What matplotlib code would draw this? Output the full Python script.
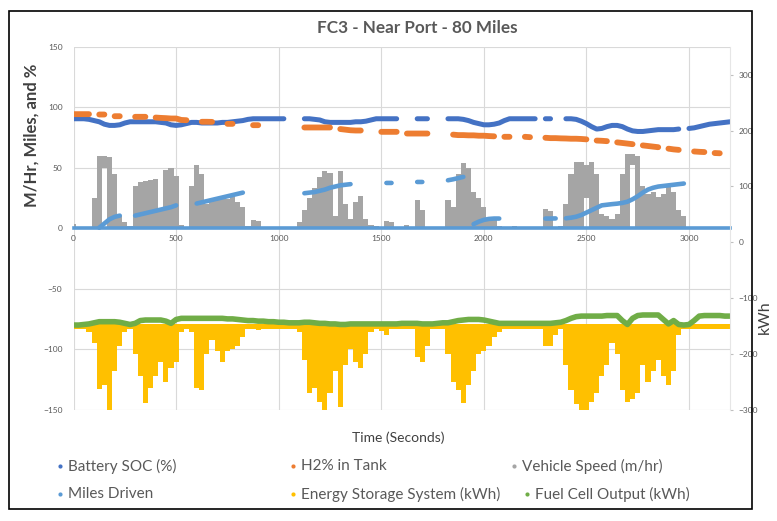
import numpy as np
import matplotlib
matplotlib.use("Agg")
import matplotlib.pyplot as plt
from matplotlib.lines import Line2D
from matplotlib.patches import Rectangle

plt.rcParams['font.family'] = ['Lato', 'DejaVu Sans']

nan = np.nan
# time grid, 25 s steps
t_sec = np.arange(0, 3201, 25)

battery_soc = [
    90.5, 90.5, 90.5, 90, 89, 88, 86, 85,
    85, 85.5, 87, 88, 88, 88, 88, 88,
    88, 87.5, 87, 85.5, 85, 85.5, 86.5, 87.5,
    87.5, 87, 87, 87, 87, 87.5, 87.5, 88,
    88.5, 89, 90, 90.5, 90.5, 90.5, 90.5, 90.5,
    90.5, 90.5, nan, nan, nan, 90.5, 90.5, 90,
    89.5, 88, 87.5, 87.5, 87.5, 87.5, 87.5, 88,
    88, 88.5, 89.5, 90.5, 90.5, 90.5, 90.5, 90.5,
    nan, nan, nan, 90.5, 90.5, 90.5, nan, nan,
    nan, 90.5, 90.5, 90.5, 90, 89, 87.5, 86.5,
    85.5, 85.5, 86, 87, 89, 90.5, 90.5, 90.5,
    90.5, 90.5, 90.5, nan, 90.5, 90.5, nan, nan,
    90.5, 90.5, 90, 88.5, 86.5, 84, 82, 82.5,
    84, 85, 85, 84, 82, 80.5, 80, 80,
    80.5, 81, 81.5, 81.5, 81.5, 81.5, 82, nan,
    82.5, 83, 84, 85, 86, 86.5, 87, 87.5,
    88]

h2_tank = [
    94.3, 94.3, 94.3, 94.3, nan, 94, 94, nan,
    92.6, 92.6, nan, nan, 92.1, 92.1, 92.1, nan,
    91.5, 91.2, 91, 90.7, 90.7, 89.5, 89.3, nan,
    nan, 88, 88, 87.9, nan, nan, 86.3, 86.3,
    nan, 86.6, nan, 85.2, 85.2, nan, nan, nan,
    nan, 83.8, nan, nan, nan, 83.3, 83.3, 83.3,
    83.3, 83.3, 83.3, nan, 82, 81.5, 81, 80.8,
    80.8, nan, nan, nan, 79.7, 79.7, 79.7, 79.7,
    nan, 78.3, 78.3, 78.3, 78.3, 78.3, nan, nan,
    nan, nan, 77.4, 77, 77, 76.8, 76.8, 76.5,
    76.5, 76.2, 76, nan, 75.6, 75.6, nan, nan,
    75.6, 75.3, nan, nan, 74.8, 74.5, 74.5, 74.3,
    74.2, 74, 74, 73.8, 73.5, nan, 72.5, 72.3,
    72, nan, 71, 70.5, 70, 69.5, nan, 68.5,
    68, 67.5, 67, nan, 65.8, 65.2, 64.8, nan,
    nan, 63.5, 63.2, 63, nan, 62.2, 62, nan,
    nan]

speed_hi = [
    4, 0, 0, 0, 25, 60, 60, 59,
    45, 10, 5, 2, 35, 38, 39, 40,
    41, 14, 48, 50, 43, 3, 0, 35,
    52, 45, 20, 24, 25, 25, 24, 27,
    22, 18, 2, 7, 6, 0, 0, 0,
    0, 0, 0, 0, 5, 15, 25, 33,
    42, 47, 46, 10, 47, 20, 8, 22,
    27, 8, 3, 2, 0, 6, 5, 0,
    0, 3, 0, 23, 15, 0, 0, 0,
    0, 23, 18, 45, 54, 50, 30, 25,
    18, 8, 8, 2, 0, 0, 2, 0,
    0, 0, 0, 0, 16, 14, 0, 2,
    20, 45, 55, 55, 52, 55, 45, 12,
    10, 8, 12, 45, 61, 61, 60, 35,
    28, 30, 26, 28, 35, 30, 15, 10,
    0, 1, 0, 0, 0, 0, 0, 0,
    0]

speed_lo = [
    0, 0, 0, 0, 0, 0, 50, 0,
    0, 0, 0, 0, 0, 0, 0, 0,
    0, 0, 0, 0, 0, 0, 0, 0,
    0, 0, 0, 0, 0, 0, 0, 0,
    0, 0, 0, 0, 0, 0, 0, 0,
    0, 0, 0, 0, 0, 0, 0, 0,
    0, 0, 0, 0, 0, 0, 0, 0,
    0, 0, 0, 0, 0, 0, 0, 0,
    0, 0, 0, 0, 0, 0, 0, 0,
    0, 0, 0, 0, 0, 0, 0, 0,
    0, 0, 0, 0, 0, 0, 0, 0,
    0, 0, 0, 0, 0, 0, 0, 0,
    0, 0, 0, 0, 25, 0, 0, 0,
    0, 0, 0, 0, 0, 52, 0, 0,
    0, 0, 0, 0, 0, 0, 0, 0,
    0, 0, 0, 0, 0, 0, 0, 0,
    0]

miles_driven = [
    nan, nan, nan, nan, nan, 0.5, 4, 7.5,
    9.5, 10.5, nan, nan, 10.5, 11.5, 12.5, 13.5,
    14.5, 15.5, 16.5, 17.5, 19, nan, nan, nan,
    20.5, 21.5, 22.5, 23.5, 24.5, 25.5, 26.5, 27.5,
    28.5, 29.5, nan, nan, nan, nan, nan, nan,
    nan, nan, nan, nan, nan, 29, 29.5, 30,
    31, 32, 33.5, 34.5, 35.5, 36, 36.5, nan,
    36.8, nan, nan, nan, nan, 37.5, 37.5, nan,
    nan, nan, nan, 38.3, 38.3, nan, nan, nan,
    nan, 39.7, 40.5, 41.5, 42.5, nan, 3.5, 5.5,
    7, 7.8, 8.1, 8.1, nan, nan, nan, nan,
    nan, nan, nan, nan, 8.1, 8.1, 8.2, nan,
    8.3, 8.8, 9.6, 11, 13, 15, 17, 19,
    19.5, 20, 20.4, 21, 22, 24, 26.5, 29.5,
    32, 33.5, 34.5, 35, 35.5, 36, 36.5, 37,
    nan, nan, nan, nan, nan, nan, nan, nan,
    nan]

ess_top = [
    -146, -146, -146, -146, -146, -146, -146, -146,
    -146, -146, -146, -146, -146, -146, -146, -146,
    -146, -146, -146, -146, -146, -146, -146, -146,
    -146, -146, -146, -146, -146, -146, -146, -146,
    -146, -146, -146, -146, -146, -146, -146, -146,
    -146, -146, -146, -146, -146, -146, -146, -146,
    -146, -146, -146, -146, -146, -146, -146, -146,
    -146, -146, -146, -146, -146, -146, -146, -146,
    -146, -146, -146, -146, -146, -146, -146, -146,
    -146, -146, -146, -146, -146, -146, -146, -146,
    -146, -146, -146, -146, -146, -146, -146, -146,
    -146, -146, -146, -146, -146, -146, -146, -146,
    -146, -146, -146, -146, -146, -146, -146, -146,
    -146, -146, -146, -146, -146, -146, -146, -146,
    -146, -146, -146, -146, -146, -146, -146, -146,
    -146, -146, -146, -146, -146, -146, -146, -146,
    -146]

ess_low = [
    -155, -155, -155, -160, -180, -262, -255, -300,
    -230, -185, -160, -155, -200, -240, -288, -260,
    -240, -215, -250, -225, -215, -160, -155, -160,
    -260, -265, -200, -175, -195, -215, -195, -190,
    -185, -170, -155, -155, -157, -155, -155, -155,
    -155, -155, -155, -155, -160, -210, -270, -260,
    -285, -303, -270, -230, -295, -220, -190, -215,
    -225, -200, -160, -155, -158, -165, -155, -155,
    -155, -155, -155, -205, -215, -185, -155, -155,
    -155, -200, -250, -265, -288, -255, -230, -200,
    -195, -185, -170, -160, -155, -155, -155, -155,
    -155, -155, -155, -155, -185, -185, -165, -155,
    -220, -265, -290, -303, -300, -285, -270, -240,
    -220, -180, -200, -265, -285, -280, -270, -220,
    -250, -230, -210, -240, -255, -230, -165, -155,
    -155, -155, -155, -155, -155, -155, -155, -155,
    -155]

fuel_cell = [
    -148, -148, -147, -146, -144, -142, -142, -142,
    -142, -143, -145, -147, -145, -140, -139, -139,
    -139, -139, -141, -145, -138, -136, -136, -136,
    -136, -136, -136, -136, -136, -136, -137, -137,
    -138, -139, -140, -140, -141, -141, -142, -142,
    -143, -143, -144, -144, -144, -143, -143, -144,
    -145, -145, -146, -146, -147, -147, -146, -146,
    -146, -146, -146, -146, -146, -146, -146, -146,
    -145, -145, -145, -145, -146, -146, -146, -145,
    -144, -144, -142, -140, -139, -138, -138, -138,
    -139, -141, -143, -145, -145, -145, -145, -145,
    -145, -145, -145, -145, -145, -145, -144, -143,
    -140, -136, -133, -132, -132, -132, -132, -132,
    -131, -131, -131, -140, -147, -136, -131, -130,
    -130, -130, -130, -138, -146, -140, -147, -148,
    -147, -140, -132, -131, -131, -131, -131, -132,
    -132]

c_soc = '#4472C4'
c_h2 = '#ED7D31'
c_speed = '#A5A5A5'
c_miles = '#5B9BD5'
c_ess = '#FFC000'
c_fc = '#70AD47'
txt = '#595959'

W, H = 777, 521
fig = plt.figure(figsize=(W / 100, H / 100), dpi=100)
ax = fig.add_axes([73.6 / W, 1 - 410 / H, (730 - 73.6) / W, (410 - 46.7) / H])
ax2 = ax.twinx()

spd_hi = np.array(speed_hi, dtype=float)
spd_lo = np.array(speed_lo, dtype=float)
ax.bar(t_sec, spd_hi - spd_lo, bottom=spd_lo, width=25, color=c_speed, linewidth=0, zorder=1)
# dense Excel scatter markers -> thick round-capped lines, gaps where data is missing
ax.plot(t_sec, battery_soc, '-', lw=3.6, color=c_soc, solid_capstyle='round', zorder=2)
ax.plot(t_sec, h2_tank, '-', lw=4.2, color=c_h2, solid_capstyle='round', zorder=2)
ax.plot(t_sec, miles_driven, '-', lw=3.3, color=c_miles, solid_capstyle='round', zorder=3)

top = np.array(ess_top, dtype=float)
low = np.array(ess_low, dtype=float)
ax2.bar(t_sec, low - top, bottom=top, width=25, color=c_ess, linewidth=0, zorder=1)
ax2.plot(t_sec, fuel_cell, '-', lw=4, color=c_fc, solid_capstyle='round', zorder=2)

ax.set_xlim(0, 3200)
ax.set_ylim(-150, 150)
ax2.set_ylim(-300, 350)
ax.set_xticks(range(0, 3001, 500))
ax.set_yticks(range(-150, 151, 50))
ax2.set_yticks(range(-300, 301, 100))

ax.grid(color='#D9D9D9', lw=0.8)
ax.set_axisbelow(True)
ax.get_xgridlines()[0].set_visible(False)

for s in ['top', 'left', 'right']:
    ax.spines[s].set_visible(False)
ax.spines['bottom'].set_position(('data', 0))
ax.spines['bottom'].set_color(c_miles)
ax.spines['bottom'].set_linewidth(2.6)
ax.spines['bottom'].set_zorder(4)
for s in ['top', 'left', 'bottom']:
    ax2.spines[s].set_visible(False)
ax2.spines['right'].set_color('#E6E6E6')
ax2.spines['right'].set_linewidth(0.8)

ax.tick_params(axis='x', length=0, pad=5, labelsize=6, labelcolor=txt)
ax.tick_params(axis='y', length=0, pad=8, labelsize=6, labelcolor=txt)
ax2.tick_params(axis='y', length=2, color='#BFBFBF', pad=4, labelsize=6, labelcolor=txt)

fig.text(417 / W, 1 - 28 / H, 'FC3 - Near Port - 80 Miles', ha='center', va='center',
         fontsize=12.3, fontweight='bold', color=txt)
fig.text(32 / W, 1 - 135 / H, 'M/Hr, Miles, and %', rotation=90, ha='center', va='center',
         fontsize=12, fontweight='bold', color='#404040')
fig.text(765 / W, 1 - 317 / H, 'kWh', rotation=90, ha='center', va='center',
         fontsize=11.5, color='#404040')
fig.text(398 / W, 1 - 438 / H, 'Time (Seconds)', ha='center', va='center',
         fontsize=10, color='#404040')

legend_items = [
    (60, 466, 'Battery SOC (%)', c_soc),
    (293, 466, 'H2% in Tank', c_h2),
    (514, 466, 'Vehicle Speed (m/hr)', c_speed),
    (60, 494, 'Miles Driven', c_miles),
    (293, 494, 'Energy Storage System (kWh)', c_ess),
    (527, 494, 'Fuel Cell Output (kWh)', c_fc),
]
for px, py, label, col in legend_items:
    fig.add_artist(Line2D([px / W], [1 - py / H], marker='o', ms=3, color=col, mec='none',
                          transform=fig.transFigure))
    fig.text((px + 8) / W, 1 - py / H, label, ha='left', va='center', fontsize=11, color=txt)

fig.add_artist(Rectangle((9 / W, 1 - 509 / H), (752 - 9) / W, (509 - 11) / H, fill=False,
                         ec='black', lw=1.2, transform=fig.transFigure))

fig.savefig('out.png', dpi=100)
